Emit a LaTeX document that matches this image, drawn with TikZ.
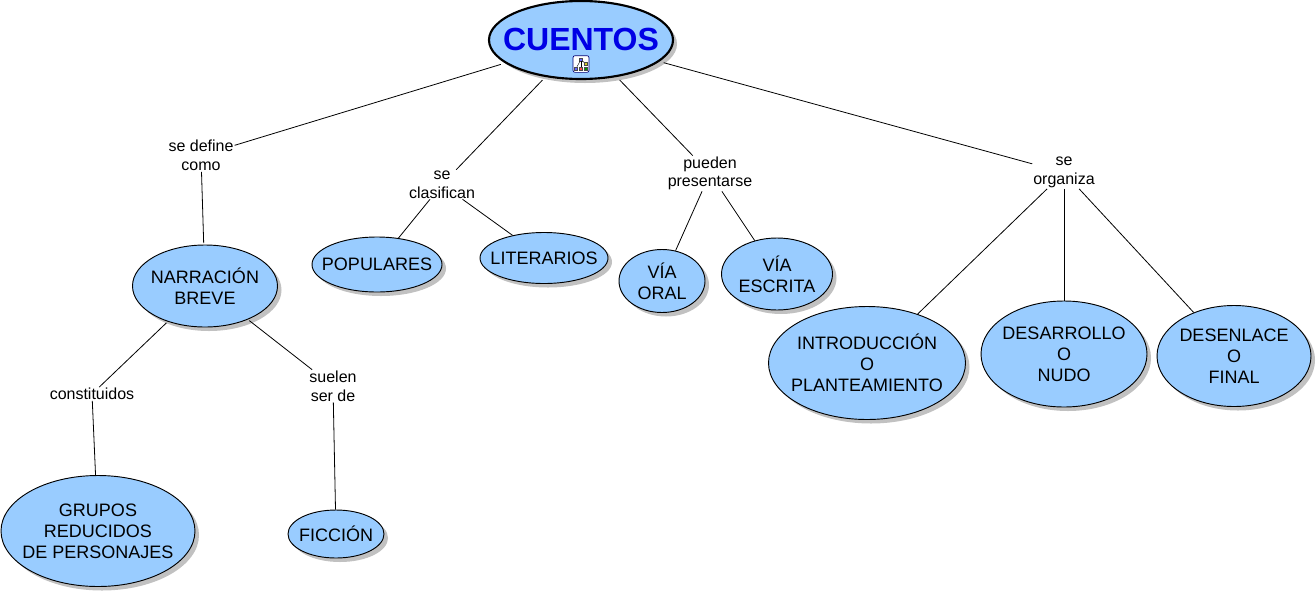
\documentclass[tikz,border=0pt]{standalone}
\usepackage{fontspec}
\setmainfont{Liberation Sans}
\usetikzlibrary{shapes.geometric,shadows}
\definecolor{cmapblue}{RGB}{153,204,255}
\tikzset{
  concept/.style args={#1x#2}{ draw, ellipse, fill=cmapblue, line width=0.7pt, inner ysep=0pt, inner xsep=-7pt,
    minimum width=#1*0.75pt, minimum height=#2*0.75pt, align=center,
    font=\fontsize{13.5}{15.7}\selectfont,
    drop shadow={shadow xshift=3pt, shadow yshift=-3pt, fill=black!35, opacity=0.7} }
}
\tikzset{
  linkword/.style={ inner sep=0.5pt, align=center, font=\fontsize{12}{14}\selectfont }
}
\tikzset{
  iconbit/.style={ draw=black!70, inner sep=0pt, minimum size=2.2pt, line width=0.3pt }
}
\begin{document}
\begin{tikzpicture}[x=0.75pt, y=-0.75pt, line width=0.6pt]
      \useasboundingbox (0,0) rectangle (1316,593);
      % links are drawn first, so that the ellipses sit on top
      \node[linkword] (define) at (201,155.5) {se define\\como};
      \node[linkword] (clasif) at (442,184.5) {se\\clasifican};
      \node[linkword] (pueden) at (710,173.5) {pueden\\presentarse};
      \node[linkword] (organiza) at (1064,172.5) {se\\organiza};
      \node[linkword] (constit) at (92,394) {constituidos};
      \node[linkword] (suelen) at (333,386) {suelen\\ser de};
      \node[concept=184x78, inner xsep=-10pt, outer sep=3.5pt, line width=1.6pt, font=\fontsize{24}{29}\bfseries\selectfont, text=blue!90!black, text depth=0pt] (cuentos) at (581,40) {\raisebox{0.8pt}{CUENTOS}};
      \node[concept=145x82, outer sep=1.5pt] (narracion) at (205,286) {NARRACIÓN\\BREVE};
      \node[concept=130x55] (populares) at (377,264.5) {POPULARES};
      \node[concept=128x51] (literarios) at (544,258) {LITERARIOS};
      \node[concept=86x63] (oral) at (662,281) {VÍA\\ORAL};
      \node[concept=111x72] (escrita) at (777,274) {VÍA\\ESCRITA};
      \node[concept=197x113] (intro) at (867,363) {INTRODUCCIÓN\\O\\PLANTEAMIENTO};
      \node[concept=166x106] (desarrollo) at (1064,354) {DESARROLLO\\O\\NUDO};
      \node[concept=154x101] (desenlace) at (1234,356) {DESENLACE\\O\\FINAL};
      \node[concept=194x111] (grupos) at (98,531) {GRUPOS\\REDUCIDOS\\DE PERSONAJES};
      \node[concept=96x48] (ficcion) at (336,534) {FICCIÓN};
      \draw (cuentos) -- (define);
      \draw (cuentos) -- (clasif);
      \draw (cuentos) -- (pueden);
      \draw (cuentos) -- (organiza);
      \draw (define) -- (narracion);
      \draw (clasif) -- (populares);
      \draw (clasif) -- (literarios);
      \draw (pueden) -- (oral);
      \draw (pueden) -- (escrita);
      \draw (organiza) -- (intro);
      \draw (organiza) -- (desarrollo);
      \draw (organiza) -- (desenlace);
      \draw (narracion) -- (constit);
      \draw (narracion) -- (suelen);
      \draw (constit) -- (grupos);
      \draw (suelen) -- (ficcion);
      % small map icon below the title
      \node[draw=blue!45!black, fill=white, rounded corners=1.5pt, line width=0.5pt, minimum width=12pt, minimum height=12.5pt, inner sep=0pt] (icon) at (581,64) {};
      \node[iconbit, fill=blue!60] (itop) at (581,59.5) {};
      \node[iconbit, fill=yellow!80!black] (iright) at (585.5,64) {};
      \node[iconbit, fill=red!70] (imid) at (581,68.5) {};
      \node[iconbit, fill=blue!60] (ileft) at (576,68.5) {};
      \node[iconbit, fill=green!60!black] (irb) at (586,68.5) {};
      \draw[line width=0.3pt] (itop) -- (imid);
      \draw[line width=0.3pt] (itop) -- (ileft);
      \draw[line width=0.3pt] (itop) -- (iright);
    \end{tikzpicture}
\end{document}
